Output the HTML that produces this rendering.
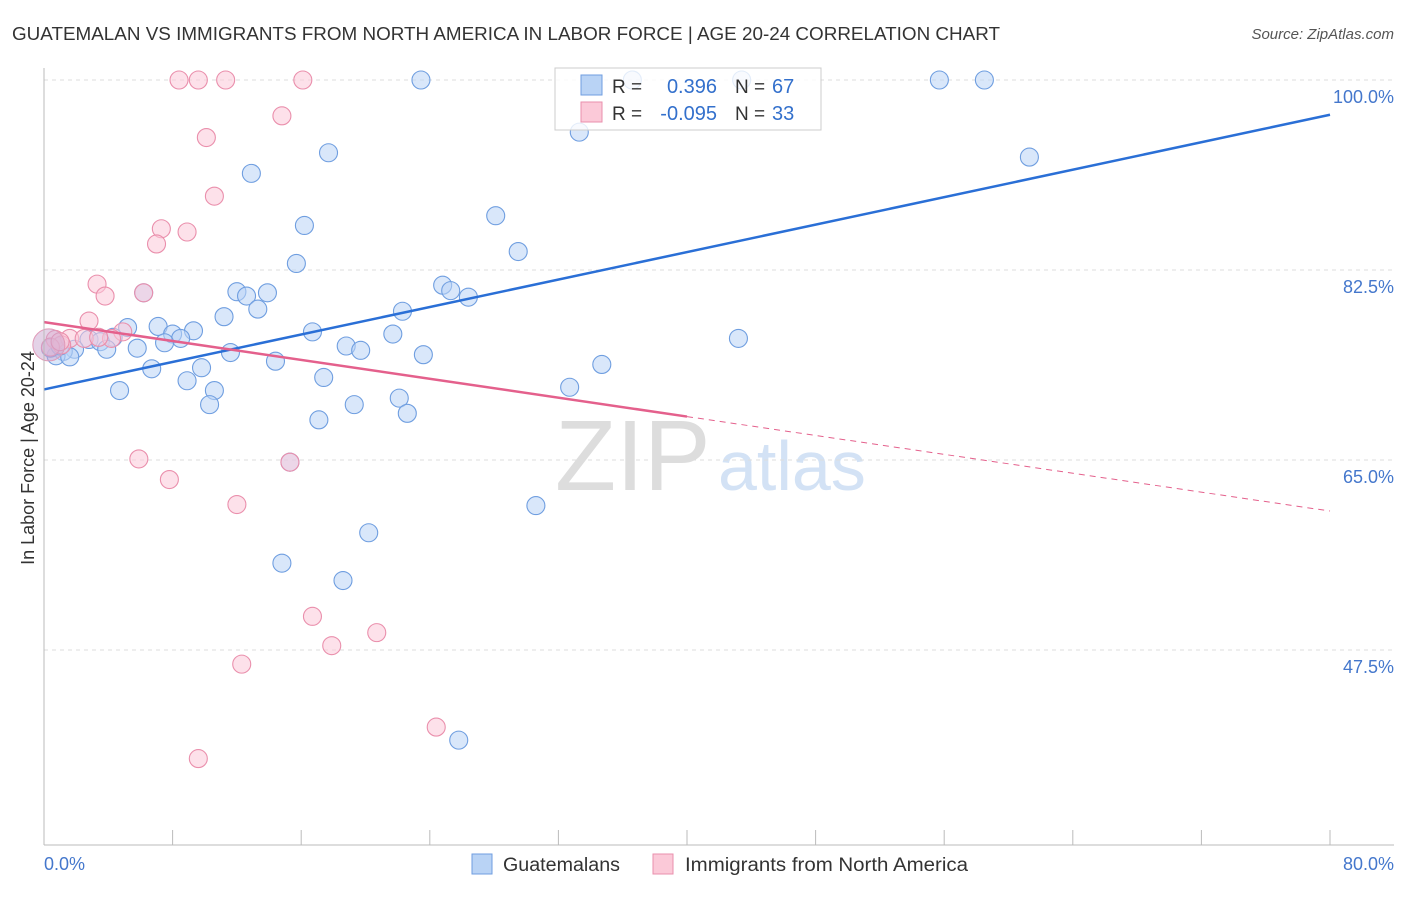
<!DOCTYPE html>
<html><head><meta charset="utf-8"><style>
body{margin:0;background:#fff;font-family:"Liberation Sans",sans-serif;}
svg text{font-family:"Liberation Sans",sans-serif;}
</style></head><body>
<svg id="c" width="1406" height="892">
<text x="12" y="40" font-size="18" fill="#333" textLength="988" lengthAdjust="spacingAndGlyphs">GUATEMALAN VS IMMIGRANTS FROM NORTH AMERICA IN LABOR FORCE | AGE 20-24 CORRELATION CHART</text>
<text x="1394" y="39" font-size="15" fill="#555" text-anchor="end" font-style="italic">Source: ZipAtlas.com</text>
<text x="555" y="490" font-size="100" fill="#ddd" font-family="Liberation Serif">ZIP</text>
<text x="718" y="490" font-size="70" fill="#d3e2f5">atlas</text>
<g id="grid"></g><g id="pts"></g><g id="lines"></g>
<line x1="44" y1="68" x2="44" y2="845" stroke="#bbb"/>
<line x1="44" y1="845" x2="1394" y2="845" stroke="#bbb"/>
<text x="34" y="458" font-size="18" fill="#333" text-anchor="middle" transform="rotate(-90 34 458)">In Labor Force | Age 20-24</text>
<text x="44" y="870" font-size="18" fill="#4477cc">0.0%</text>
<text x="1394" y="870" font-size="18" fill="#4477cc" text-anchor="end">80.0%</text>
<g>
<rect x="472" y="854" width="20" height="20" fill="#b9d3f5" stroke="#6f9ee0"/>
<text x="503" y="871" font-size="19" fill="#333" textLength="117" lengthAdjust="spacingAndGlyphs">Guatemalans</text>
<rect x="653" y="854" width="20" height="20" fill="#fbc9d8" stroke="#ea8fac"/>
<text x="685" y="871" font-size="19" fill="#333" textLength="283" lengthAdjust="spacingAndGlyphs">Immigrants from North America</text>
</g>
<g>
<rect x="555" y="68" width="266" height="62" fill="#fff" fill-opacity="0.8" stroke="#ccc"/>
<rect x="581" y="75" width="21" height="20" fill="#b9d3f5" stroke="#6f9ee0"/>
<rect x="581" y="102" width="21" height="20" fill="#fbc9d8" stroke="#ea8fac"/>
<text x="612" y="93" font-size="19" fill="#333">R = </text><text x="717" y="93" font-size="20" fill="#3370cc" text-anchor="end">0.396</text>
<text x="735" y="93" font-size="19" fill="#333">N = </text><text x="772" y="93" font-size="20" fill="#3370cc">67</text>
<text x="612" y="120" font-size="19" fill="#333">R = </text><text x="717" y="120" font-size="20" fill="#3370cc" text-anchor="end">-0.095</text>
<text x="735" y="120" font-size="19" fill="#333">N = </text><text x="772" y="120" font-size="20" fill="#3370cc">33</text>
</g>
</svg>
<script>
const yTicks=[100,82.5,65,47.5];
const xTicks=[0,8,16,24,32,40,48,56,64,72,80];
const blueX=[23.45,36.6,43.4,55.7,58.5,33.3,17.7,61.3,12.9,28.1,16.2,29.5,15.7,24.8,25.3,26.4,12.0,12.6,13.9,6.2,13.3,22.3,11.2,7.1,5.2,9.3,8.0,8.5,16.7,21.7,43.2,4.3,2.8,3.5,7.5,5.8,3.9,1.9,1.2,0.75,1.6,18.8,19.7,11.6,23.6,14.4,34.7,6.7,9.8,8.9,17.4,32.7,4.7,10.6,22.1,10.3,19.3,22.6,17.1,15.3,30.6,20.2,14.8,18.6,25.8,0.4,1.0];
const blueY=[100,100,100,100,100,95.2,93.3,92.9,91.4,87.5,86.6,84.2,83.1,81.1,80.6,80.0,80.5,80.1,80.4,80.4,78.9,78.7,78.2,77.3,77.2,76.9,76.6,76.2,76.8,76.6,76.2,76.3,76.1,75.9,75.8,75.3,75.2,75.2,75.0,74.6,74.5,75.5,75.1,74.9,74.7,74.1,73.8,73.4,73.5,72.3,72.6,71.7,71.4,71.4,70.7,70.1,70.1,69.3,68.7,64.8,60.8,58.3,55.5,53.9,39.2,75.3,75.5];
const pinkX=[8.4,9.6,11.3,16.1,14.8,10.1,10.6,7.3,8.9,7.0,3.3,3.8,6.2,2.8,4.9,0.7,1.6,2.5,4.2,3.4,1.1,5.9,7.8,12.0,15.3,16.7,20.7,17.9,12.3,24.4,9.6,0.4,1.0];
const pinkY=[100,100,100,100,96.7,94.7,89.3,86.3,86.0,84.9,81.2,80.1,80.4,77.8,76.8,76.1,76.2,76.2,76.2,76.3,75.6,65.1,63.2,60.9,64.8,50.6,49.1,47.9,46.2,40.4,37.5,75.4,75.9];
const blueTrend=[71.5,96.8];
const pinkTrend=[77.7,60.3];
const pinkSolidEnd=40;
const NS="http://www.w3.org/2000/svg";
const X=v=>44+v/80*1286;
const Y=v=>80+(100-v)*190/17.5;
function mk(t,a,p){const e=document.createElementNS(NS,t);for(const k in a)e.setAttribute(k,a[k]);p.appendChild(e);return e;}
const grid=document.getElementById('grid'),pts=document.getElementById('pts'),lines=document.getElementById('lines');
yTicks.forEach(v=>{
 const l=mk('line',{x1:44,x2:1394,y1:Y(v),y2:Y(v),stroke:'#ddd','stroke-dasharray':'4,4'},grid);
 
 
 const t=mk('text',{x:1394,y:Y(v)+23,'font-size':18,fill:'#4477cc','text-anchor':'end'},grid);
 t.textContent=v.toFixed(1)+'%';
 
 
});
xTicks.forEach(v=>{
 const l=mk('line',{x1:X(v),x2:X(v),y1:830,y2:845,stroke:'#bbb'},grid);
 
 
});
blueX.forEach((x,i)=>{
 const c=mk('circle',{cx:X(x),cy:Y(blueY[i]),r:9,fill:'#b9d3f5','fill-opacity':0.55,stroke:'#6f9ee0','stroke-width':1.1},pts);
 
 
});
pinkX.forEach((x,i)=>{
 const c=mk('circle',{cx:X(x),cy:Y(pinkY[i]),r:9,fill:'#fbc9d8','fill-opacity':0.55,stroke:'#ea8fac','stroke-width':1.1},pts);
 
 
});
const big=mk('circle',{cx:X(0.3),cy:Y(75.6),r:16,fill:'#c9a5d0','fill-opacity':0.5,stroke:'#e09ab8'},pts);


const bl=mk('line',{x1:X(0),y1:Y(blueTrend[0]),x2:X(80),y2:Y(blueTrend[1]),stroke:'#2a6fd6','stroke-width':2.5},lines);


const pm=pinkTrend[0]+(pinkTrend[1]-pinkTrend[0])*pinkSolidEnd/80;
const pl=mk('line',{x1:X(0),y1:Y(pinkTrend[0]),x2:X(pinkSolidEnd),y2:Y(pm),stroke:'#e4608c','stroke-width':2.5},lines);


const pd=mk('line',{x1:X(pinkSolidEnd),y1:Y(pm),x2:X(80),y2:Y(pinkTrend[1]),stroke:'#e4608c','stroke-width':1,'stroke-dasharray':'6,5'},lines);


</script>
</body></html>
